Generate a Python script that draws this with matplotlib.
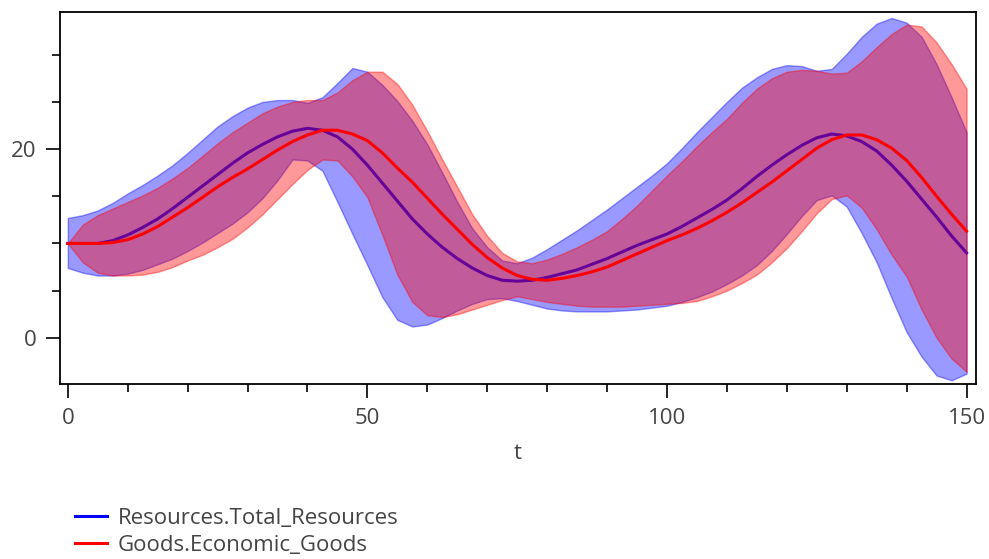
import numpy as np
import matplotlib
matplotlib.use("Agg")
import matplotlib.pyplot as plt

plt.rcParams['font.family'] = ['Open Sans', 'DejaVu Sans']

t = np.arange(0, 150.1, 2.5)

# Resources.Total_Resources: mean, lower and upper envelope
res_mean = [10.0, 10.0, 10.0, 10.3, 10.9, 11.7, 12.6, 13.7, 14.9, 16.1,
            17.3, 18.5, 19.6, 20.5, 21.3, 21.9, 22.2, 22.0, 21.3, 20.0,
            18.3, 16.4, 14.5, 12.6, 11.0, 9.6, 8.4, 7.4, 6.6, 6.1,
            6.0, 6.1, 6.4, 6.8, 7.2, 7.8, 8.4, 9.1, 9.8, 10.4,
            11.0, 11.8, 12.7, 13.6, 14.6, 15.8, 17.1, 18.3, 19.4, 20.4,
            21.2, 21.6, 21.4, 20.8, 19.8, 18.3, 16.6, 14.7, 12.8, 10.8,
            9.0]
res_hi = [12.7, 13.0, 13.5, 14.3, 15.3, 16.2, 17.2, 18.3, 19.6, 21.0,
          22.4, 23.5, 24.4, 25.0, 25.2, 25.2, 24.9, 25.5, 27.0, 28.6,
          28.2, 26.8, 25.1, 23.0, 20.5, 17.5, 14.4, 11.6, 9.6, 8.2,
          7.9, 8.5, 9.4, 10.4, 11.4, 12.5, 13.6, 14.8, 16.0, 17.2,
          18.5, 20.1, 21.8, 23.4, 25.0, 26.5, 27.6, 28.5, 28.9, 28.8,
          28.3, 28.5, 30.1, 31.9, 33.3, 33.9, 33.4, 31.9, 29.0, 25.5,
          21.8]
res_lo = [7.4, 6.9, 6.6, 6.6, 6.8, 7.2, 7.8, 8.4, 9.2, 10.1,
          11.1, 12.1, 13.3, 14.8, 16.7, 18.9, 18.8, 17.7, 14.4, 11.0,
          7.7, 4.3, 1.9, 1.2, 1.4, 2.1, 2.9, 3.6, 4.1, 4.2,
          3.9, 3.5, 3.1, 2.9, 2.8, 2.8, 2.8, 2.9, 3.0, 3.2,
          3.4, 3.8, 4.3, 4.9, 5.7, 6.6, 7.7, 9.2, 11.0, 12.9,
          14.6, 15.1, 13.9, 11.1, 8.0, 4.2, 0.6, -2.0, -4.0, -4.5,
          -3.8]

# Goods.Economic_Goods: mean, lower and upper envelope
goods_mean = [10.0, 10.0, 10.0, 10.1, 10.4, 11.0, 11.8, 12.8, 13.8, 14.9,
              16.0, 17.0, 17.9, 18.9, 19.9, 20.8, 21.5, 22.0, 22.0, 21.6,
              20.9, 19.6, 18.0, 16.5, 14.8, 13.1, 11.5, 9.9, 8.5, 7.4,
              6.6, 6.2, 6.1, 6.3, 6.6, 7.0, 7.5, 8.2, 8.9, 9.6,
              10.3, 10.9, 11.6, 12.4, 13.3, 14.3, 15.4, 16.5, 17.7, 18.9,
              20.1, 21.0, 21.5, 21.5, 21.0, 20.1, 18.8, 17.0, 15.0, 13.1,
              11.3]
goods_hi = [10.0, 12.0, 13.0, 13.7, 14.4, 15.1, 15.9, 16.9, 18.0, 19.3,
            20.6, 21.8, 22.8, 23.8, 24.5, 25.0, 25.2, 25.2, 26.0, 27.3,
            28.2, 28.2, 26.9, 24.7, 21.9, 18.9, 16.0, 13.1, 10.8, 9.0,
            8.1, 7.9, 8.3, 8.9, 9.6, 10.4, 11.3, 12.6, 14.0, 15.6,
            17.2, 18.7, 20.3, 21.8, 23.2, 24.9, 26.4, 27.5, 28.2, 28.4,
            28.3, 28.0, 28.1, 29.3, 30.8, 32.2, 33.2, 33.0, 31.3, 29.0,
            26.4]
goods_lo = [10.0, 8.0, 6.9, 6.6, 6.6, 6.7, 7.0, 7.5, 8.2, 8.8,
            9.6, 10.5, 11.7, 13.1, 14.7, 16.3, 17.8, 18.9, 18.8, 17.1,
            14.9, 10.9, 6.7, 3.8, 2.4, 2.2, 2.5, 3.0, 3.5, 4.0,
            4.4, 4.1, 3.8, 3.6, 3.4, 3.3, 3.3, 3.3, 3.4, 3.5,
            3.6, 3.7, 3.9, 4.4, 5.0, 5.8, 6.7, 8.0, 9.5, 11.3,
            13.2, 14.7, 15.1, 13.8, 11.5, 8.8, 6.5, 3.0, 0.0, -2.2,
            -3.6]

fig = plt.figure(figsize=(9.89, 5.59), dpi=100)
ax = fig.add_axes([0.0607, 0.313, 0.9263, 0.665])

ax.fill_between(t, res_lo, res_hi, color='blue', alpha=0.4, lw=1, zorder=1)
l1, = ax.plot(t, res_mean, color='blue', lw=2.2, zorder=2)
ax.fill_between(t, goods_lo, goods_hi, color='red', alpha=0.4, lw=1, zorder=3)
l2, = ax.plot(t, goods_mean, color='red', lw=2.2, zorder=4)

ax.set_xlim(-1.3, 151.6)
ax.set_ylim(-4.9, 34.5)
ax.set_xticks([0, 50, 100, 150])
ax.set_xticks(np.arange(0, 151, 10), minor=True)
ax.set_yticks([0, 20])
ax.set_yticks([5, 10, 15, 25, 30], minor=True)
ax.tick_params(which='major', length=10, width=1.2, pad=7, labelsize=16,
               labelcolor='#444444')
ax.tick_params(which='minor', length=6, width=1.2)
for s in ax.spines.values():
    s.set_linewidth(1.3)
ax.set_xlabel('t', fontsize=16, color='#444444', labelpad=10)

fig.legend([l1, l2], ['Resources.Total_Resources', 'Goods.Economic_Goods'],
           loc='upper left', bbox_to_anchor=(0.076, 0.092), frameon=False,
           fontsize=16, handlelength=1.45, handletextpad=0.45, labelspacing=0.3,
           borderaxespad=0, borderpad=0, labelcolor='#444444')

fig.savefig('out.png', dpi=100)
